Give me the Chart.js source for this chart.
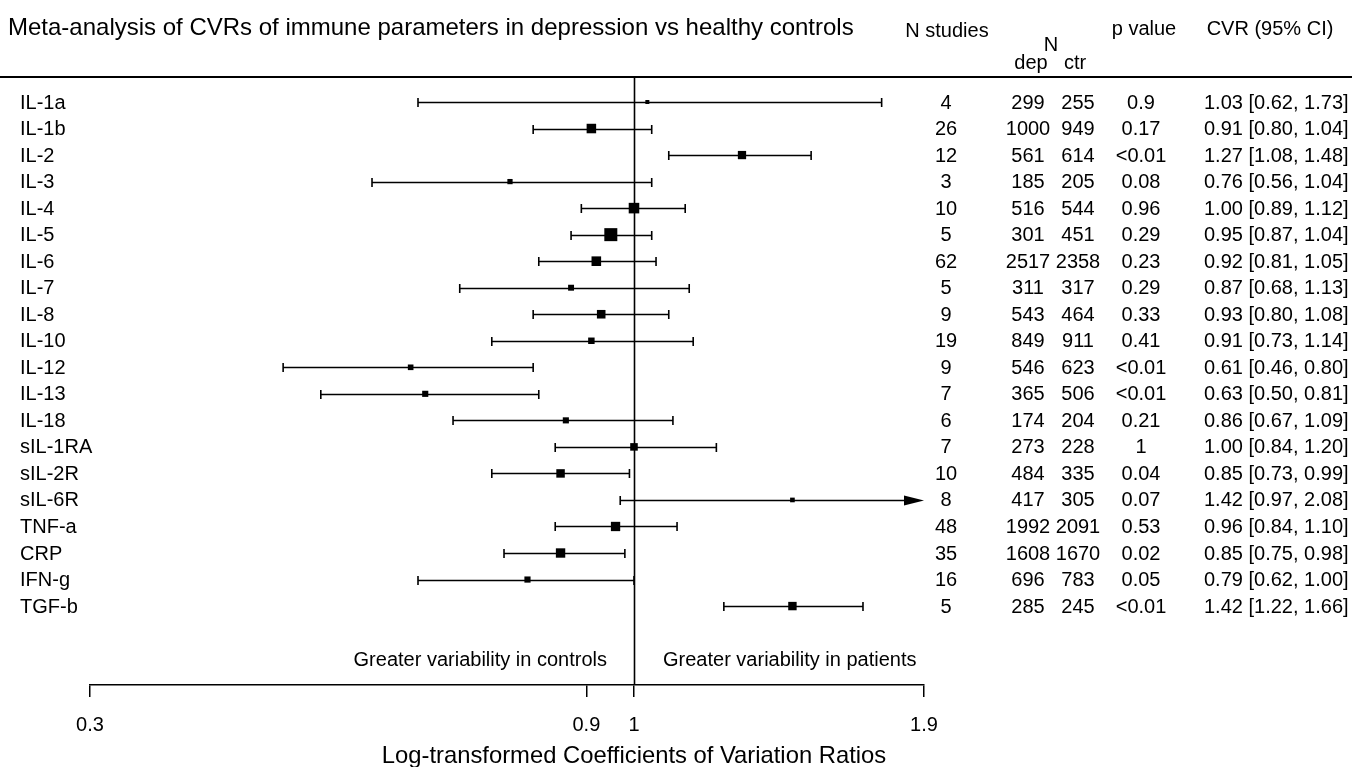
<!DOCTYPE html>
<html>
<head>
<meta charset="utf-8">
<script src="https://cdn.jsdelivr.net/npm/chart.js@4/dist/chart.umd.min.js"></script>
<style>
  html, body { margin: 0; padding: 0; background: #fff; }
  #wrap { width: 1352px; height: 767px; position: relative; }
</style>
</head>
<body>
<div id="wrap"><canvas id="c" width="1352" height="767"></canvas></div>
<script>
const titleText = 'Meta-analysis of CVRs of immune parameters in depression vs healthy controls';
const labels = ['IL-1a','IL-1b','IL-2','IL-3','IL-4','IL-5','IL-6','IL-7','IL-8','IL-10','IL-12','IL-13','IL-18','sIL-1RA','sIL-2R','sIL-6R','TNF-a','CRP','IFN-g','TGF-b'];
const nStudies = [4,26,12,3,10,5,62,5,9,19,9,7,6,7,10,8,48,35,16,5];
const nDep = [299,1000,561,185,516,301,2517,311,543,849,546,365,174,273,484,417,1992,1608,696,285];
const nCtr = [255,949,614,205,544,451,2358,317,464,911,623,506,204,228,335,305,2091,1670,783,245];
const pValue = ['0.9','0.17','<0.01','0.08','0.96','0.29','0.23','0.29','0.33','0.41','<0.01','<0.01','0.21','1','0.04','0.07','0.53','0.02','0.05','<0.01'];
const cvr = [1.03,0.91,1.27,0.76,1.00,0.95,0.92,0.87,0.93,0.91,0.61,0.63,0.86,1.00,0.85,1.42,0.96,0.85,0.79,1.42];
const ciLow = [0.62,0.80,1.08,0.56,0.89,0.87,0.81,0.68,0.80,0.73,0.46,0.50,0.67,0.84,0.73,0.97,0.84,0.75,0.62,1.22];
const ciHigh = [1.73,1.04,1.48,1.04,1.12,1.04,1.05,1.13,1.08,1.14,0.80,0.81,1.09,1.20,0.99,2.08,1.10,0.98,1.00,1.66];
const xTicks = [0.3, 0.9, 1, 1.9];
const axisTitle = 'Log-transformed Coefficients of Variation Ratios';
const leftNote = 'Greater variability in controls';
const rightNote = 'Greater variability in patients';

const FONT = '"Liberation Sans", Arial, Helvetica, sans-serif';

// square size from precision (inverse log CI width), as forest plots do
const prec = ciLow.map((lo, i) => 1 / Math.log(ciHigh[i] / lo));
const pMin = Math.min(...prec), pMax = Math.max(...prec);
const sideFor = i => 4 + (prec[i] - pMin) / (pMax - pMin) * 9;

const points = cvr.map((v, i) => ({ x: v, y: i }));

const forestPlugin = {
  id: 'forest',
  beforeDatasetsDraw(chart) {
    const ctx = chart.ctx;
    const xs = chart.scales.x, ys = chart.scales.y;
    const area = chart.chartArea;
    ctx.save();
    ctx.strokeStyle = '#000';
    ctx.fillStyle = '#000';
    // header rule
    ctx.lineWidth = 2;
    ctx.beginPath(); ctx.moveTo(0, area.top); ctx.lineTo(1352, area.top); ctx.stroke();
    // reference line at 1
    ctx.lineWidth = 1.6;
    const x1 = Math.round(xs.getPixelForValue(1)) + 0.5;
    ctx.beginPath(); ctx.moveTo(x1, area.top); ctx.lineTo(x1, area.bottom); ctx.stroke();
    // error bars
    const xmax = xs.max, xmin = xs.min;
    for (let i = 0; i < labels.length; i++) {
      const y = Math.round(ys.getPixelForValue(i)) + 0.5;
      const loC = ciLow[i] < xmin, hiC = ciHigh[i] > xmax;
      const xl = xs.getPixelForValue(Math.max(ciLow[i], xmin));
      const xh = xs.getPixelForValue(Math.min(ciHigh[i], xmax));
      ctx.lineWidth = 1.6;
      ctx.beginPath();
      ctx.moveTo(xl, y); ctx.lineTo(hiC ? xh - 18 : xh, y);
      if (!loC) { ctx.moveTo(xl, y - 4.5); ctx.lineTo(xl, y + 4.5); }
      if (!hiC) { ctx.moveTo(xh, y - 4.5); ctx.lineTo(xh, y + 4.5); }
      ctx.stroke();
      if (hiC) {
        ctx.beginPath();
        ctx.moveTo(xh, y); ctx.lineTo(xh - 20, y - 5); ctx.lineTo(xh - 20, y + 5); ctx.closePath();
        ctx.fill();
      }
    }
    ctx.restore();
  },
  afterDraw(chart) {
    const ctx = chart.ctx;
    const xs = chart.scales.x, ys = chart.scales.y;
    ctx.save();
    ctx.fillStyle = '#000';
    ctx.textBaseline = 'middle';
    // title
    ctx.font = '24px ' + FONT;
    ctx.textAlign = 'left';
    ctx.fillText(titleText, 8, 28);
    // headers
    ctx.font = '20px ' + FONT;
    ctx.textAlign = 'center';
    ctx.fillText('N studies', 947, 31);
    ctx.fillText('N', 1051, 45);
    ctx.fillText('dep', 1031, 63);
    ctx.fillText('ctr', 1075, 63);
    ctx.fillText('p value', 1144, 29);
    ctx.fillText('CVR (95% CI)', 1270, 29);
    // rows
    for (let i = 0; i < labels.length; i++) {
      const y = ys.getPixelForValue(i) + 1;
      ctx.textAlign = 'left';
      ctx.fillText(labels[i], 20, y);
      ctx.textAlign = 'center';
      ctx.fillText(String(nStudies[i]), 946, y);
      ctx.fillText(String(nDep[i]), 1028, y);
      ctx.fillText(String(nCtr[i]), 1078, y);
      ctx.fillText(pValue[i], 1141, y);
      ctx.textAlign = 'left';
      ctx.fillText(cvr[i].toFixed(2) + ' [' + ciLow[i].toFixed(2) + ', ' + ciHigh[i].toFixed(2) + ']', 1204, y);
    }
    // direction notes
    const x1 = xs.getPixelForValue(1);
    ctx.textAlign = 'right';
    ctx.fillText(leftNote, x1 - 27, 660);
    ctx.textAlign = 'left';
    ctx.fillText(rightNote, x1 + 29, 660);
    // axis title centred on the reference line
    ctx.font = '23.8px ' + FONT;
    ctx.textAlign = 'center';
    ctx.fillText(axisTitle, x1, 756);
    ctx.restore();
  }
};

new Chart(document.getElementById('c'), {
  type: 'scatter',
  data: {
    datasets: [{
      data: points,
      pointStyle: 'rect',
      backgroundColor: '#000',
      borderColor: '#000',
      borderWidth: 0,
      pointRadius: ctx => sideFor(ctx.dataIndex) / (2 * Math.SQRT1_2),
      pointHoverRadius: ctx => sideFor(ctx.dataIndex) / (2 * Math.SQRT1_2)
    }]
  },
  options: {
    responsive: false,
    animation: false,
    events: [],
    layout: { padding: { left: 90, right: 428, top: 77, bottom: 32 } },
    plugins: { legend: { display: false }, tooltip: { enabled: false }, title: { display: false } },
    scales: {
      x: {
        type: 'logarithmic',
        min: 0.3,
        max: 1.9,
        afterBuildTicks: s => { s.ticks = xTicks.map(v => ({ value: v })); },
        afterFit: s => { s.height = 50; },
        ticks: {
          autoSkip: false,
          maxRotation: 0,
          padding: 16,
          color: '#000',
          font: { family: FONT, size: 20 },
          callback: v => String(v)
        },
        grid: { display: true, drawOnChartArea: false, drawTicks: true, tickLength: 12, color: '#000', lineWidth: 1.5 },
        border: { display: true, color: '#000', width: 1.6 }
      },
      y: {
        type: 'linear',
        display: false,
        reverse: true,
        min: -0.9423,
        max: 21.975
      }
    }
  },
  plugins: [forestPlugin]
});
</script>
</body>
</html>
